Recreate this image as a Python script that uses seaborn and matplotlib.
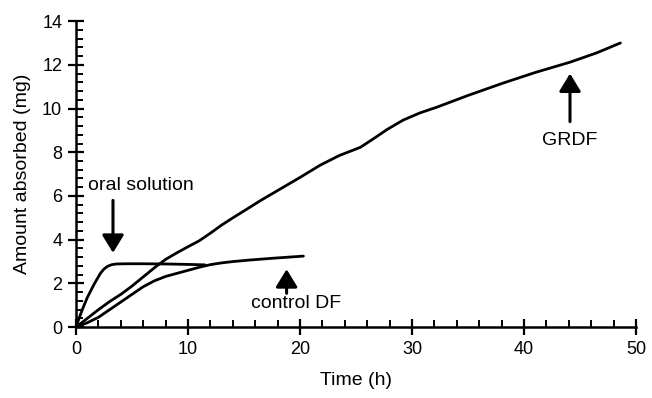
import numpy as np
import pandas as pd
import matplotlib
matplotlib.use("Agg")
import matplotlib.pyplot as plt
from matplotlib.ticker import MultipleLocator
import seaborn as sns

# Cumulative amount absorbed (mg) versus time (h)
oral_t = [0, 0.3, 0.6, 1.0, 1.3, 1.6, 1.9, 2.2, 2.5, 2.8, 3.2, 3.6, 4.5, 6.0, 8.0, 10.0, 11.5]
oral_v = [0, 0.45, 0.85, 1.35, 1.65, 1.95, 2.22, 2.48, 2.66, 2.78, 2.86, 2.89, 2.9, 2.9,
          2.89, 2.87, 2.85]

control_t = [0, 1, 2, 3, 4, 5, 6, 7, 8, 9, 10, 11, 12, 13, 14, 15.5, 17.5, 20.3]
control_v = [0, 0.2, 0.45, 0.8, 1.15, 1.5, 1.85, 2.12, 2.32, 2.46, 2.6, 2.74, 2.86, 2.94,
             3.0, 3.07, 3.15, 3.25]

grdf_t = [0, 1, 2, 3, 4, 5, 6, 7.2, 8, 9, 10, 11, 12, 13, 14, 15.1, 16.5, 18, 20, 21.8,
          23.5, 25.4, 26.5, 27.8, 29.2, 30.7, 32.2, 35, 38.1, 41, 44.1, 46.5, 48.6]
grdf_v = [0, 0.4, 0.8, 1.17, 1.5, 1.88, 2.3, 2.8, 3.1, 3.4, 3.68, 3.95, 4.3, 4.67, 5.0,
          5.35, 5.8, 6.25, 6.85, 7.41, 7.85, 8.23, 8.6, 9.05, 9.47, 9.8, 10.06, 10.6,
          11.16, 11.65, 12.12, 12.55, 13.0]

df = pd.concat([
    pd.DataFrame({"t": oral_t, "v": oral_v, "series": "oral solution"}),
    pd.DataFrame({"t": control_t, "v": control_v, "series": "control DF"}),
    pd.DataFrame({"t": grdf_t, "v": grdf_v, "series": "GRDF"}),
], ignore_index=True)

sns.set_theme(style="ticks")
plt.rcParams["font.family"] = ["Liberation Sans", "DejaVu Sans"]
plt.rcParams["text.color"] = "black"
plt.rcParams["axes.labelcolor"] = "black"

fig = plt.figure(figsize=(6.52, 3.98), dpi=100)
ax = fig.add_axes([0.1166, 0.178, 0.859, 0.769])

sns.lineplot(data=df, x="t", y="v", hue="series", units="series", estimator=None,
             palette=["black", "black", "black"], legend=False, linewidth=2.0,
             sort=False, ax=ax)

ax.set_xlim(0, 50)
ax.set_ylim(0, 14)
ax.xaxis.set_major_locator(MultipleLocator(10))
ax.xaxis.set_minor_locator(MultipleLocator(2))
ax.yaxis.set_major_locator(MultipleLocator(2))
ax.yaxis.set_minor_locator(MultipleLocator(0.4))
ax.tick_params(which="major", direction="inout", length=12, width=1.6,
               labelsize=13, colors="black", pad=4)
ax.tick_params(which="minor", direction="in", length=5, width=1.4, colors="black")
for side in ("left", "bottom"):
    ax.spines[side].set_linewidth(1.8)
    ax.spines[side].set_color("black")
sns.despine(ax=ax)

ax.set_xlabel("Time (h)", fontsize=14, color="black", labelpad=10)
ax.set_ylabel("Amount absorbed (mg)", fontsize=14, color="black", labelpad=8)

arrow_kw = dict(arrowstyle="-|>,head_length=0.9,head_width=0.55", color="black",
                lw=2.2, shrinkA=0, shrinkB=0)
ax.annotate("", xy=(3.3, 3.4), xytext=(3.3, 5.8), arrowprops=arrow_kw)
ax.text(5.8, 6.5, "oral solution", fontsize=14, ha="center", va="center", color="black")

ax.annotate("", xy=(18.8, 2.65), xytext=(18.8, 1.55), arrowprops=arrow_kw)
ax.text(19.6, 1.1, "control DF", fontsize=14, ha="center", va="center", color="black")

ax.annotate("", xy=(44.1, 11.6), xytext=(44.1, 9.4), arrowprops=arrow_kw)
ax.text(44.1, 8.55, "GRDF", fontsize=14, ha="center", va="center", color="black")

fig.savefig("out.png", dpi=100)
